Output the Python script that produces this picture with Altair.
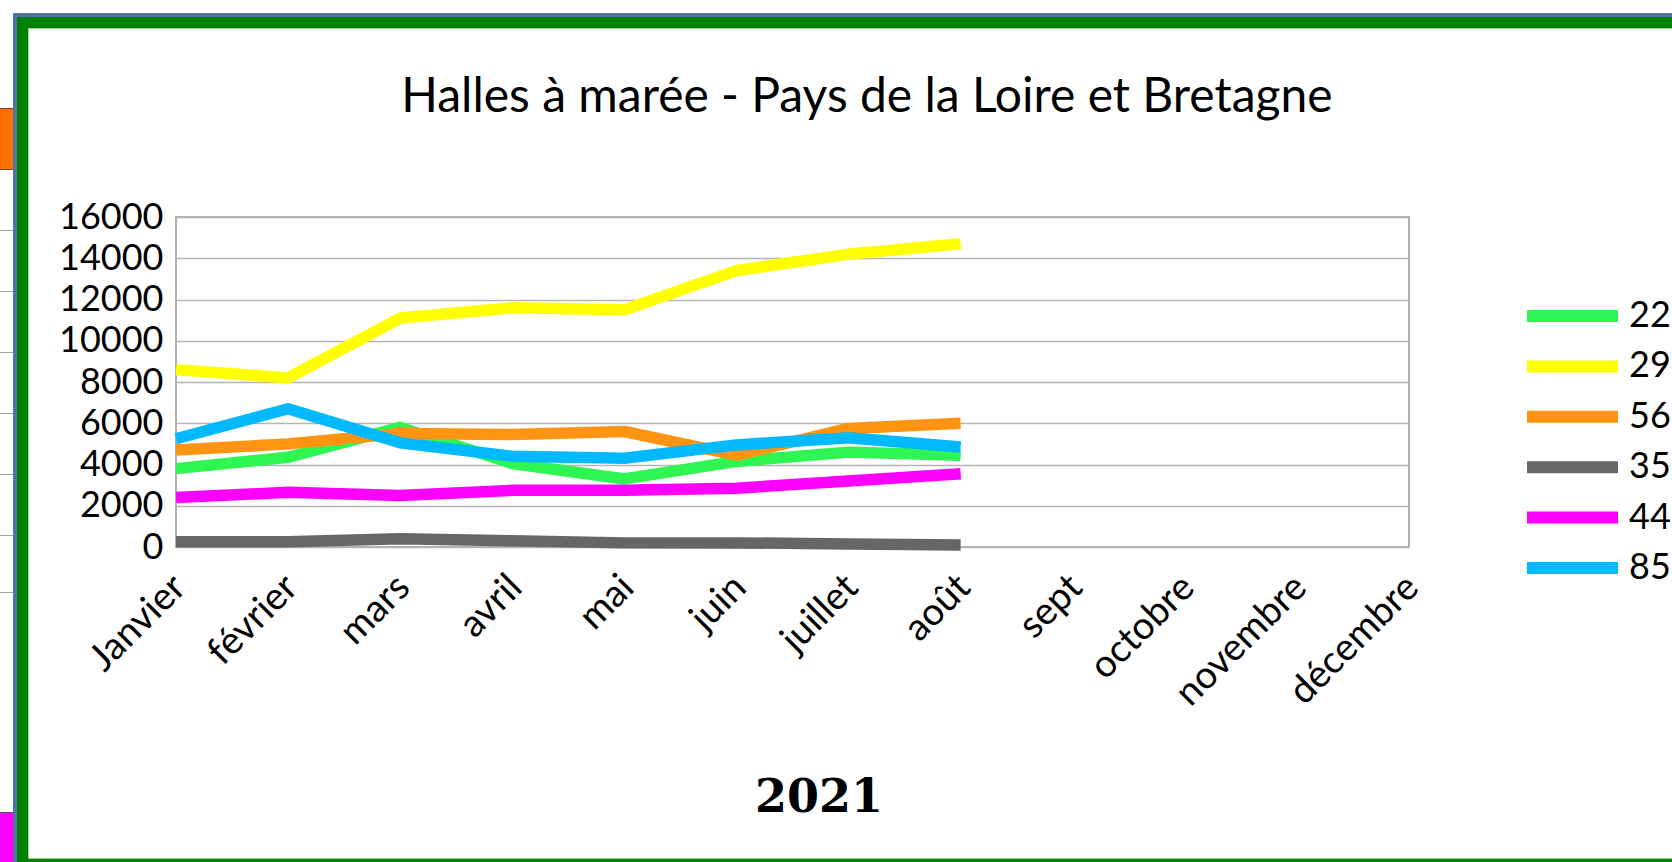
import altair as alt
import pandas as pd

months = ["Janvier", "février", "mars", "avril", "mai", "juin", "juillet", "août",
          "sept", "octobre", "novembre", "décembre"]
series_names = ["22", "29", "56", "35", "44", "85"]
series_colors = ["#2ef552", "#ffff00", "#ff9412", "#666666", "#ff00ff", "#00b9ff"]

s22 = [3800, 4350, 5800, 4050, 3300, 4150, 4600, 4450]
s29 = [8600, 8200, 11100, 11600, 11500, 13400, 14200, 14700]
s56 = [4700, 5000, 5500, 5450, 5600, 4450, 5750, 6000]
s35 = [250, 250, 400, 300, 200, 200, 150, 100]
s44 = [2400, 2650, 2500, 2750, 2750, 2850, 3200, 3550]
s85 = [5250, 6700, 5050, 4400, 4300, 4950, 5300, 4850]

y_ticks = [0, 2000, 4000, 6000, 8000, 10000, 12000, 14000, 16000]

title_text = "Halles à marée - Pays de la Loire et Bretagne"
year_text = "2021"

rows = []
for name, vals in zip(series_names, [s22, s29, s56, s35, s44, s85]):
    for m, v in zip(months, vals):
        rows.append({"month": m, "series": name, "value": v})
df = pd.DataFrame(rows)
leg = pd.DataFrame({"series": series_names})
one = pd.DataFrame({"k": [0]})

# layout (page pixels)
OX, OY = 176, 217
W, H = 1233, 330
FONT = "Lato"


def rect(x1, x2, y1, y2, color):
    return alt.Chart(one).mark_rect(color=color).encode(
        x=alt.value(x1 - OX), x2=alt.value(x2 - OX),
        y=alt.value(y1 - OY), y2=alt.value(y2 - OY))


decor = [
    rect(0, 1672, 0, 13, "white"),
    # spreadsheet fragment on the left
    rect(0, 13, 108, 170, "#7a4a24"),
    rect(0, 13, 109, 169, "#ff6f00"),
]
for gy in [230, 291, 352, 413, 474, 535, 592]:
    decor.append(rect(0, 13, gy, gy + 1, "#a0a0a0"))
decor += [
    rect(0, 13, 812, 813, "#6a4a6a"),
    rect(0, 13, 813, 862, "#ff00ff"),
    # frame
    rect(13, 1672, 13, 17, "#4f73a3"),
    rect(13, 17, 13, 862, "#4f73a3"),
    rect(17, 1672, 17, 28, "#008000"),
    rect(17, 28, 17, 862, "#008000"),
    rect(17, 1672, 859, 862, "#008000"),
    rect(28, 29, 28, 859, "#9ad89a"),
    rect(28, 1672, 28, 29, "#9ad89a"),
    rect(28, 1672, 858, 859, "#9ad89a"),
]

color_enc = alt.Color("series:N", scale=alt.Scale(domain=series_names, range=series_colors),
                      legend=None)

lines = alt.Chart(df).mark_line(strokeWidth=11.5, strokeCap="butt", strokeJoin="round").encode(
    x=alt.X("month:N", scale=alt.Scale(domain=months, padding=0),
            axis=alt.Axis(title=None, labelAngle=-45, labelAlign="right", labelBaseline="top",
                          labelPadding=21, labelOffset=-10, labelFont=FONT, labelFontSize=38,
                          labelColor="black", ticks=False, domain=False, grid=False,
                          labelOverlap=False)),
    y=alt.Y("value:Q", scale=alt.Scale(domain=[0, 16000], nice=False),
            axis=alt.Axis(values=y_ticks, format="d", title=None, labelFont=FONT,
                          labelFontSize=36, labelColor="black", labelPadding=13, ticks=False,
                          domain=False, grid=True, gridColor="#b4b4b4", gridWidth=1.5,
                          labelOverlap=False)),
    color=color_enc,
)

yleg = alt.Y("series:N",
             scale=alt.Scale(type="point", domain=series_names, range=[316 - OY, 568 - OY],
                             padding=0),
             axis=None)
leg_rules = alt.Chart(leg).mark_rule(strokeWidth=12, strokeCap="butt").encode(
    x=alt.value(1527 - OX), x2=alt.value(1618 - OX), y=yleg, color=color_enc)
leg_text = alt.Chart(leg).mark_text(align="left", baseline="middle", font=FONT, fontSize=36,
                                    color="black").encode(
    x=alt.value(1629 - OX), y=yleg, text="series:N")

title = alt.Chart(one).mark_text(text=title_text, font=FONT, fontSize=48, color="black",
                                 align="center", baseline="alphabetic").encode(
    x=alt.value(867 - OX), y=alt.value(112 - OY))
year = alt.Chart(one).mark_text(text=year_text, font="DejaVu Serif", fontWeight="bold",
                                fontSize=46, color="black", align="center",
                                baseline="alphabetic").encode(
    x=alt.value(819 - OX), y=alt.value(812 - OY))

chart = alt.layer(*decor, lines, leg_rules, leg_text, title, year).resolve_scale(
    y="independent"
).properties(
    width=W, height=H, padding=0, background="white"
).configure_view(stroke="#b0b0b0", strokeWidth=2)

chart.save("out.html", embed_options={"renderer": "svg", "actions": False})
